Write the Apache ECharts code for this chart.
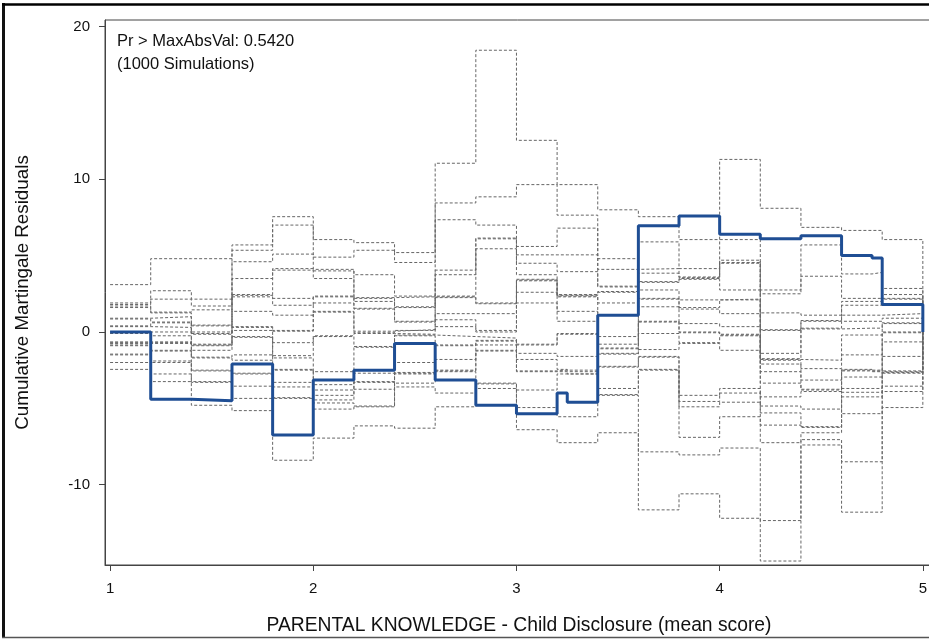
<!DOCTYPE html>
<html>
<head>
<meta charset="utf-8">
<script src="https://cdn.jsdelivr.net/npm/echarts@6/dist/echarts.min.js"></script>
<style>
  html, body { margin: 0; padding: 0; background: #fff; }
  #chart { width: 929px; height: 639px; }
</style>
</head>
<body>
<div id="chart"></div>
<script>
// Break points of the covariate (step positions); the last entry closes the final step.
const breaks = [1.0, 1.2, 1.4, 1.6, 1.8, 2.0, 2.2, 2.4, 2.6, 2.8, 3.0, 3.2, 3.25, 3.4, 3.6, 3.8, 4.0, 4.2, 4.4, 4.6, 4.75, 4.8, 5.0];

// Observed cumulative martingale residuals, one value per step (ends at 0 at x = 5).
const observed = [0, -4.4, -4.5, -2.1, -6.75, -3.15, -2.5, -0.75, -3.15, -4.8, -5.35, -4.0, -4.6, 1.1, 6.95, 7.6, 6.4, 6.1, 6.3, 5.0, 4.85, 1.8, 0];

// Simulated realizations: the 20 levels taken by the paths on each step, path k = entry k.
const sim100 = [3.1, 1.9, 1.8, 1.7, 1.6, 0.9, 0.85, 0.4, 0.35, 0.0, -0.1, -0.65, -0.7, -0.75, -0.85, -0.9, -1.45, -1.5, -2.0, -2.45];
const sim120 = [4.8, 2.7, 2.15, 1.3, 1.25, 1.0, 0.65, 0.6, 0.3, 0.0, -0.25, -0.65, -0.7, -0.75, -1.2, -1.25, -1.9, -2.0, -2.75, -3.25];
const sim140 = [4.8, 2.15, 1.7, 1.45, 0.45, 0.4, 0.0, -0.1, -0.15, -0.8, -0.85, -0.9, -1.2, -1.65, -1.7, -2.5, -2.55, -3.25, -3.3, -4.8];
const sim160 = [5.7, 5.35, 4.6, 3.5, 2.45, 2.4, 2.3, 1.35, 0.35, 0.3, 0.1, -0.3, -0.35, -1.5, -1.85, -2.7, -2.75, -3.55, -4.35, -5.15];
const sim180 = [7.55, 7.0, 5.1, 4.15, 4.05, 2.2, 1.75, 1.1, 0.1, 0.05, -0.7, -1.55, -1.7, -2.45, -2.5, -3.3, -3.6, -4.3, -4.35, -8.4];
const sim200 = [6.05, 4.9, 4.1, 4.0, 3.5, 2.35, 2.3, 1.9, 1.35, 1.3, -0.25, -0.3, -2.6, -3.45, -3.8, -4.15, -4.45, -4.65, -5.05, -6.95];
const sim220 = [5.85, 5.35, 3.75, 2.25, 2.2, 2.0, 1.55, 1.5, 0.05, -0.05, -0.1, -0.95, -1.0, -2.7, -3.25, -3.3, -3.75, -4.85, -4.9, -6.15];
const sim240 = [5.2, 4.55, 2.35, 2.3, 1.65, 1.6, 0.7, 0.65, 0.15, 0.1, -0.15, -0.2, -0.25, -2.0, -2.65, -2.7, -2.75, -3.35, -3.6, -6.3];
const sim260 = [11.05, 8.45, 7.35, 4.05, 3.75, 2.35, 2.3, 2.25, 1.2, 0.8, 0.35, -0.3, -0.85, -0.9, -1.8, -2.5, -2.55, -2.6, -4.0, -4.9];
const sim280 = [18.45, 8.85, 7.0, 6.15, 6.1, 5.45, 1.9, 1.85, 1.2, 0.1, 0.0, -0.4, -0.55, -0.6, -0.85, -1.2, -1.25, -3.35, -3.4, -3.7];
const sim300 = [12.55, 9.65, 5.6, 5.05, 4.5, 3.75, 3.45, 3.4, 3.35, 2.6, 1.9, -0.8, -0.85, -1.4, -1.8, -2.55, -2.6, -3.8, -4.95, -6.4];
const sim320 = [9.65, 7.65, 6.8, 5.05, 3.95, 2.45, 2.4, 2.35, 2.3, 1.35, 0.7, -0.1, -0.15, -1.6, -2.45, -2.5, -2.6, -2.75, -5.55, -7.25];
const sim325 = [9.65, 7.65, 6.8, 5.05, 3.95, 2.45, 2.4, 2.35, 2.3, 1.35, 0.7, -0.1, -0.15, -1.6, -2.75, -2.5, -2.6, -2.75, -5.55, -7.25];
const sim340 = [8.0, 4.8, 4.1, 3.0, 2.95, 2.65, 2.6, 1.9, -0.3, -0.8, -1.05, -1.1, -1.4, -1.45, -2.25, -2.3, -3.7, -4.1, -4.15, -6.6];
const sim360 = [7.55, 5.9, 4.15, 3.85, 3.3, 3.25, 2.75, 2.2, 2.15, 1.65, 0.7, 0.65, -0.1, -1.15, -1.6, -1.65, -2.45, -2.5, -7.85, -11.65];
const sim380 = [6.05, 4.15, 3.6, 3.55, 3.5, 3.45, 2.1, 1.6, 1.5, 0.55, 0.0, -0.05, -0.7, -0.75, -4.15, -4.55, -4.9, -6.9, -8.05, -10.6];
const sim400 = [11.3, 6.05, 4.7, 4.55, 4.5, 2.75, 2.15, 2.1, 1.2, 0.35, -0.15, -0.2, -0.25, -1.2, -3.7, -4.0, -4.6, -5.55, -7.6, -12.2];
const sim420 = [8.1, 2.75, 2.5, 1.25, 0.15, 0.1, -1.4, -1.75, -1.8, -1.85, -2.1, -2.6, -3.35, -4.25, -4.85, -5.3, -6.1, -7.25, -12.35, -15.0];
const sim440 = [6.85, 5.7, 3.65, 1.1, 0.75, 0.7, 0.25, 0.2, -1.85, -2.4, -3.15, -3.75, -3.8, -3.9, -5.05, -6.2, -6.25, -6.6, -7.05, -7.4];
const sim460 = [6.65, 3.8, 2.2, 2.0, 1.75, 1.1, 0.7, 0.25, -0.2, -1.5, -2.45, -2.5, -2.55, -2.95, -3.7, -3.95, -4.25, -5.35, -8.5, -11.8];
const sim475 = [6.65, 3.9, 2.2, 2.0, 1.75, 1.1, 0.7, 0.25, -0.2, -1.5, -2.6, -2.5, -2.55, -2.95, -3.7, -3.95, -4.25, -5.35, -8.5, -11.8];
const sim480 = [6.05, 2.85, 2.45, 2.2, 2.15, 1.2, 0.9, 0.6, 0.55, 0.0, -0.05, -0.65, -1.6, -2.55, -2.6, -2.65, -2.7, -3.55, -3.9, -4.95];
const simEnd = 0;

const simSteps = [sim100, sim120, sim140, sim160, sim180, sim200, sim220, sim240, sim260, sim280, sim300,
  sim320, sim325, sim340, sim360, sim380, sim400, sim420, sim440, sim460, sim475, sim480];

const yTicks = [-10, 0, 10, 20];
const xTicks = [1, 2, 3, 4, 5];

const annotation = ['Pr > MaxAbsVal: 0.5420', '(1000 Simulations)'];
const xTitle = 'PARENTAL KNOWLEDGE - Child Disclosure (mean score)';
const yTitle = 'Cumulative Martingale Residuals';

const FONT = '"Liberation Sans", Arial, Helvetica, sans-serif';

// Build [x, y] pairs for a step path (value holds from its break to the next one).
function stepPoints(values) {
  return breaks.map((x, i) => [x, values[i]]);
}

const series = [];
const nPaths = sim100.length;
for (let k = 0; k < nPaths; k++) {
  const vals = simSteps.map(col => col[k]);
  vals.push(simEnd);
  series.push({
    type: 'line',
    step: 'end',
    data: stepPoints(vals),
    symbol: 'none',
    silent: true,
    z: 2,
    lineStyle: { color: '#666666', width: 1, type: [3, 2] }
  });
}
series.push({
  type: 'line',
  step: 'end',
  data: stepPoints(observed),
  symbol: 'none',
  silent: true,
  z: 5,
  lineStyle: { color: '#1f4e94', width: 3 }
});

const chart = echarts.init(document.getElementById('chart'), null, { renderer: 'canvas' });
chart.setOption({
  animation: false,
  backgroundColor: '#ffffff',
  grid: {
    left: 105, right: -4, top: 20, bottom: 74,
    outerBoundsMode: 'none',
    containLabel: false,
    show: true, borderColor: '#444', borderWidth: 1, backgroundColor: 'transparent'
  },
  xAxis: {
    type: 'value',
    min: 0.975, max: 5.05,
    name: xTitle,
    nameLocation: 'middle',
    nameGap: 51,
    nameTextStyle: { fontFamily: FONT, fontSize: 19.3, color: '#111' },
    axisLine: { show: true, onZero: false, lineStyle: { color: '#444', width: 1 } },
    axisTick: { show: true, customValues: xTicks, length: 6, lineStyle: { color: '#444' } },
    axisLabel: { customValues: xTicks, margin: 16, fontFamily: FONT, fontSize: 15, color: '#111' },
    splitLine: { show: false }
  },
  yAxis: {
    type: 'value',
    min: -15.26, max: 20.43,
    name: yTitle,
    nameLocation: 'middle',
    nameGap: 73,
    nameRotate: 90,
    nameTextStyle: { fontFamily: FONT, fontSize: 18.8, color: '#111' },
    axisLine: { show: true, onZero: false, lineStyle: { color: '#444', width: 1 } },
    axisTick: { show: true, customValues: yTicks, length: 6, lineStyle: { color: '#444' } },
    axisLabel: { customValues: yTicks, margin: 15, fontFamily: FONT, fontSize: 15, color: '#111' },
    splitLine: { show: false }
  },
  graphic: [
    { type: 'line', shape: { x1: 3.5, y1: 3, x2: 3.5, y2: 638 }, style: { stroke: '#111', lineWidth: 3 }, silent: true },
    { type: 'line', shape: { x1: 2, y1: 4.5, x2: 929, y2: 4.5 }, style: { stroke: '#000', lineWidth: 2.5 }, silent: true },
    { type: 'line', shape: { x1: 2, y1: 637.5, x2: 929, y2: 637.5 }, style: { stroke: '#555', lineWidth: 1.5 }, silent: true },
    {
      type: 'text', left: 117, top: 30, silent: true,
      style: { text: annotation.join('\n'), fontFamily: FONT, fontSize: 16.5, lineHeight: 23, fill: '#111' }
    }
  ],
  series: series
});
</script>
</body>
</html>
